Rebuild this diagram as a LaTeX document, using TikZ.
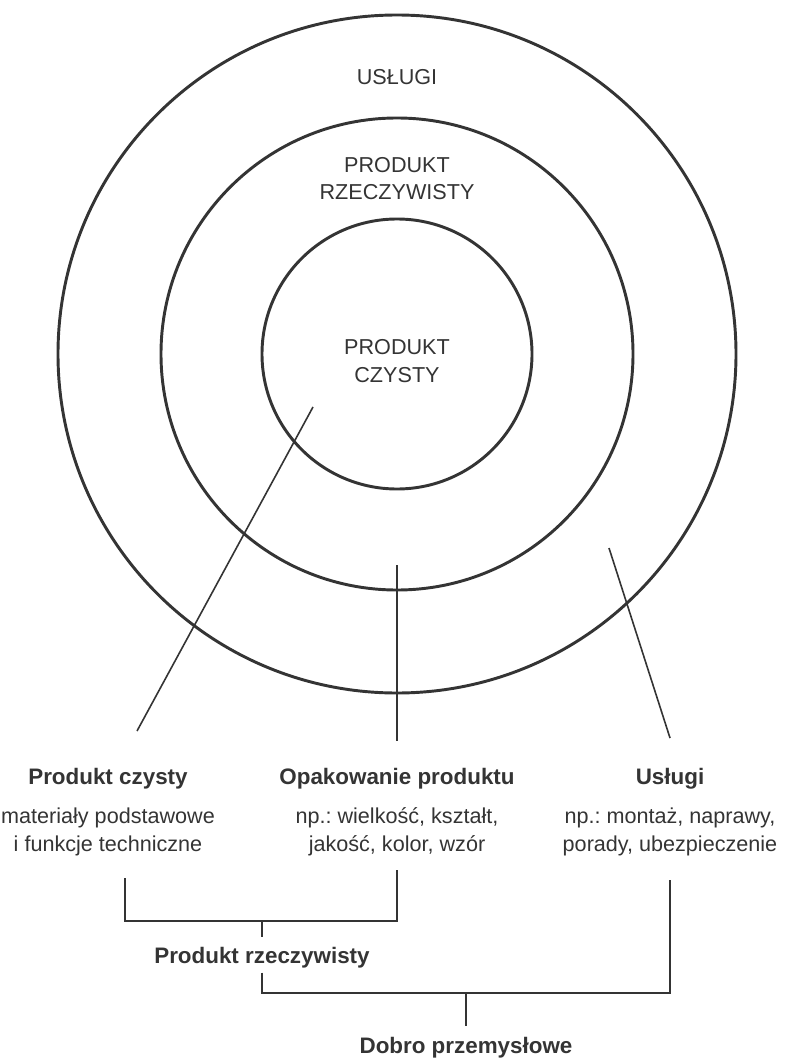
\documentclass[tikz,border=0pt]{standalone}
\usepackage{fontspec}
\setmainfont{Liberation Sans}
\usepackage{xcolor}
\usetikzlibrary{positioning}
\definecolor{ink}{HTML}{343434}
\frenchspacing

\begin{document}
\begin{tikzpicture}[x=0.75pt,y=-0.75pt,
  ring/.style={draw=ink,line width=2.2pt},
  link/.style={draw=ink,line width=1.2pt},
  lbl/.style={text=ink,font=\fontsize{16.2}{20.5}\selectfont,align=center,
              anchor=base,inner sep=0pt},
  head/.style={lbl,font=\fontsize{16.8}{20.5}\selectfont\bfseries}]
  \useasboundingbox (0,0) rectangle (785,1059);

  \draw[ring] (397,354) circle[radius=339];
  \draw[ring] (397,354) circle[radius=236];
  \draw[ring] (397,354) circle[radius=135];

  \node[lbl] (uslugi)  at (397,85)  {USŁUGI};
  \node[lbl] (rzecz)   at (397,200) {PRODUKT\\RZECZYWISTY};
  \node[lbl] (czysty)  at (397,382) {PRODUKT\\CZYSTY};

  \node[head] (pc)  at (108,784) {Produkt czysty};
  \node[lbl]  (pcd) at (108,851) {materiały podstawowe\\i funkcje techniczne};
  \node[head] (op)  at (397,784) {Opakowanie produktu};
  \node[lbl]  (opd) at (397,851) {np.: wielkość, kształt,\\jakość, kolor, wzór};
  \node[head] (us)  at (670,784) {Usługi};
  \node[lbl]  (usd) at (670,851) {np.: montaż, naprawy,\\porady, ubezpieczenie};
  \node[head] (pr)  at (262,963) {Produkt rzeczywisty};
  \node[head] (dp)  at (466,1053) {Dobro przemysłowe};

  \coordinate (s1) at (313,407);
  \coordinate (s2) at (397,565);
  \coordinate (s3) at (609,548);
  \coordinate (t1) at (137,731);
  \coordinate (t2) at (397,741);
  \coordinate (t3) at (670,738);
  \draw[link] (s1) -- (t1);
  \draw[link] (s2) -- (t2);
  \draw[link] (s3) -- (t3);

  \coordinate (b1) at (125,878);
  \coordinate (b2) at (397,870);
  \coordinate (b3) at (670,880);
  \coordinate (j1) at (262,921);
  \coordinate (j2) at (466,993);
  \draw[link] (b1) |- (j1) -| (b2);
  \draw[link,shorten >=7.5pt] (j1) -- (j1 |- pr.north);
  \draw[link,shorten <=3.5pt] (pr.south) |- (j2) -| (b3);
  \draw[link,shorten >=8pt] (j2) -- (j2 |- dp.north);

\end{tikzpicture}
\end{document}
